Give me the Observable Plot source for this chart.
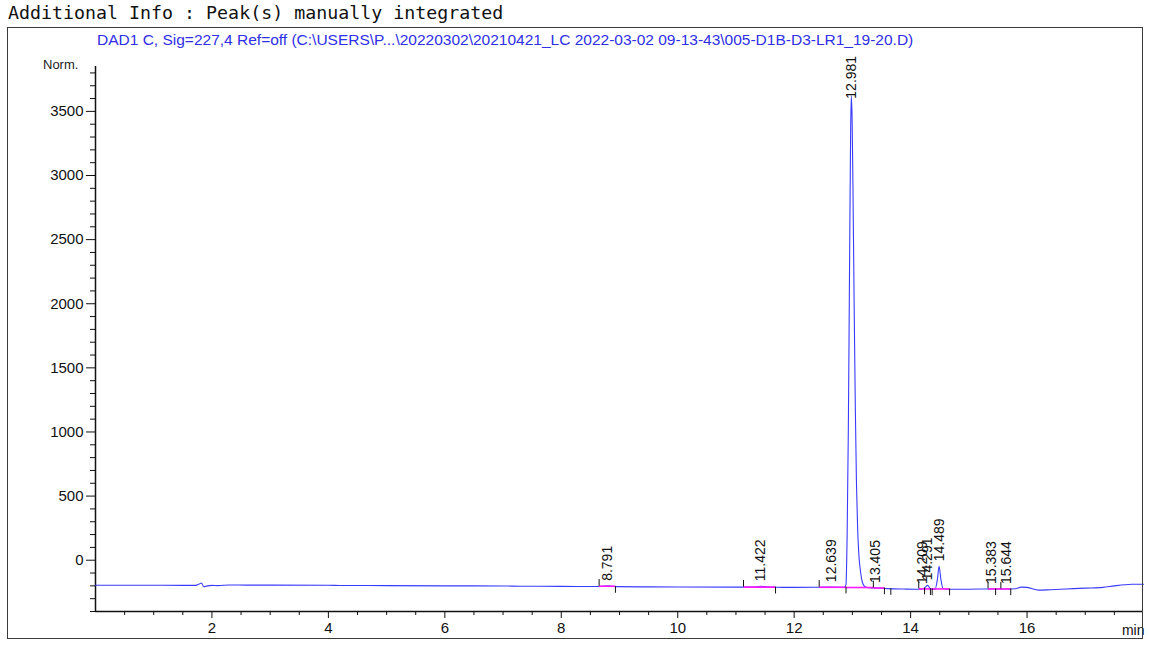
<!DOCTYPE html>
<html>
<head>
<meta charset="utf-8">
<script src="https://cdn.jsdelivr.net/npm/d3@7"></script>
<script src="https://cdn.jsdelivr.net/npm/@observablehq/plot@0.6"></script>
<style>
  html, body { margin: 0; padding: 0; background: #fff; }
  #wrap { position: relative; width: 1149px; height: 646px; overflow: hidden; background: #fff; }
  #chart { position: absolute; left: 0; top: 0; }
  #header { position: absolute; left: 8px; top: 2px; font-family: "DejaVu Sans Mono", monospace; font-size: 18.3px; color: #111; white-space: pre; }
  #frame { position: absolute; left: 7px; top: 27px; width: 1134px; height: 610px; border: 1.5px solid #3a3a3a; pointer-events: none; }
  #title { position: absolute; left: 97px; top: 31px; font-family: "Liberation Sans", Arial, sans-serif; font-size: 15.5px; color: #2f2fe6; white-space: pre; }
  #ylab { position: absolute; left: 43px; top: 57px; font-family: "Liberation Sans", Arial, sans-serif; font-size: 13px; color: #222; }
</style>
</head>
<body>
<div id="wrap">
  <div id="chart"></div>
  <div id="header">Additional Info : Peak(s) manually integrated</div>
  <div id="title">DAD1 C, Sig=227,4 Ref=off (C:\USERS\P...\20220302\20210421_LC 2022-03-02 09-13-43\005-D1B-D3-LR1_19-20.D)</div>
  <div id="ylab">Norm.</div>
  <div id="frame"></div>
</div>
<script>
// ---- Chromatogram trace (time in min, signal in Norm.) ----
const traceTime = [0, 0.5, 1.0, 1.5, 1.72, 1.78, 1.82, 1.86, 1.92, 2.0, 2.1, 2.3, 2.6, 3.0, 4.0, 4.2, 5.0, 6.0, 7.0, 7.3, 8.0, 8.6, 8.79, 8.95, 9.5, 10.0, 11.0, 11.3, 11.42, 11.55, 11.7, 12.0, 12.64, 12.86, 12.89, 12.91, 12.93, 12.95, 12.97, 12.981, 12.995, 13.01, 13.03, 13.05, 13.07, 13.09, 13.11, 13.14, 13.17, 13.21, 13.27, 13.405, 13.6, 13.9, 14.1, 14.209, 14.25, 14.291, 14.34, 14.42, 14.46, 14.489, 14.52, 14.56, 14.7, 15.0, 15.383, 15.644, 15.8, 15.9, 16.0, 16.2, 16.4, 16.8, 17.0, 17.3, 17.5, 17.8, 18.0];
const traceValue = [-195, -195, -195, -196, -196, -186, -178, -207, -200, -196, -198, -193, -194, -194, -195, -197, -198, -200, -201, -203, -204, -205, -200, -206, -208, -209, -210, -210, -203, -209, -211, -212, -210, -211, -190, 200, 1000, 2200, 3350, 3620, 3450, 2900, 2000, 1200, 600, 250, 50, -90, -170, -205, -215, -216, -222, -225, -226, -224, -212, -196, -222, -226, -150, -47, -150, -222, -226, -226, -224, -225, -222, -210, -212, -233, -230, -222, -218, -212, -200, -188, -187];

// ---- Peak annotations ----
const peakLabels = ["8.791", "11.422", "12.639", "12.981", "13.405", "14.209", "14.291", "14.489", "15.383", "15.644"];
const peakTimes  = [8.791, 11.422, 12.639, 12.981, 13.405, 14.209, 14.291, 14.489, 15.383, 15.644];
const peakApex   = [-200, -203, -210, 3560, -216, -224, -196, -47, -224, -225];

// integration baselines (start, end, level)
const baseStart = [8.65, 11.13, 12.43, 12.89, 13.36, 14.14, 15.33];
const baseEnd   = [8.93, 11.68, 12.89, 13.36, 13.55, 14.67, 15.72];
const baseLevel = [-203, -210, -211, -213, -217, -224, -224];

// integration event marks (time, baseline level, direction: 1 up / -1 down)
const eventTime  = [8.65, 8.93, 11.13, 11.68, 12.43, 12.89, 13.36, 13.55, 13.66, 14.14, 14.24, 14.34, 14.37, 14.67, 15.33, 15.46, 15.55, 15.72];
const eventLevel = [-203, -206, -210, -211, -211, -211, -216, -217, -222, -224, -218, -223, -225, -226, -224, -224, -225, -224];
const eventDir   = [1, -1, 1, -1, 1, -1, 1, -1, -1, 1, -1, -1, -1, -1, 1, -1, 1, -1];

// ---- Axes ----
const xDomain = [0, 18];
const yDomain = [-400, 3850];
const xMajorTicks = [2, 4, 6, 8, 10, 12, 14, 16];
const xMinorTicks = [0.5, 1, 1.5, 2.5, 3, 3.5, 4.5, 5, 5.5, 6.5, 7, 7.5, 8.5, 9, 9.5, 10.5, 11, 11.5, 12.5, 13, 13.5, 14.5, 15, 15.5, 16.5, 17, 17.5];
const yMajorTicks = [0, 500, 1000, 1500, 2000, 2500, 3000, 3500];
const yMinorTicks = [-400, -300, -200, -100, 100, 200, 300, 400, 600, 700, 800, 900, 1100, 1200, 1300, 1400, 1600, 1700, 1800, 1900, 2100, 2200, 2300, 2400, 2600, 2700, 2800, 2900, 3100, 3200, 3300, 3400, 3600, 3700, 3800];

const trace = traceTime.map((t, i) => ({t, v: traceValue[i]}));
const peaks = peakTimes.map((t, i) => ({t, v: peakApex[i], label: peakLabels[i]}));
const bases = baseStart.map((s, i) => ({s, e: baseEnd[i], v: baseLevel[i]}));
const events = eventTime.map((t, i) => ({t, y1: eventLevel[i], y2: eventLevel[i] + eventDir[i] * 52}));

const chart = Plot.plot({
  width: 1149,
  height: 646,
  marginLeft: 95,
  marginRight: 6,
  marginTop: 66,
  marginBottom: 35,
  style: {fontFamily: "'Liberation Sans', Arial, sans-serif", fontSize: "15px", color: "#111", background: "transparent"},
  x: {domain: xDomain},
  y: {domain: yDomain},
  marks: [
    Plot.axisX({ticks: xMinorTicks, tickSize: 4, tickFormat: () => "", label: null}),
    Plot.axisX({ticks: xMajorTicks, tickSize: 7, tickPadding: 4, tickFormat: d => String(d), label: null, fontSize: 15}),
    Plot.axisY({ticks: yMinorTicks, tickSize: 5, tickFormat: () => "", label: null}),
    Plot.axisY({ticks: yMajorTicks, tickSize: 9, tickPadding: 3, tickFormat: d => String(d), label: null, fontSize: 15}),
    Plot.ruleX([xDomain[0]], {stroke: "#111", strokeWidth: 1.5}),
    Plot.ruleY([yDomain[0]], {stroke: "#111", strokeWidth: 1.5}),
    Plot.line(trace, {x: "t", y: "v", stroke: "#3a3aff", strokeWidth: 1.1, curve: "monotone-x"}),
    Plot.link(bases, {x1: "s", x2: "e", y1: "v", y2: "v", stroke: "#ff1aff", strokeWidth: 1.6}),
    Plot.ruleX(events, {x: "t", y1: "y1", y2: "y2", stroke: "#111", strokeWidth: 1}),
    Plot.text(peaks, {x: "t", y: "v", text: "label", rotate: -90, textAnchor: "start", dy: -5, fontSize: 14, fill: "#111"}),
    Plot.text(["min"], {frameAnchor: "bottom-right", dx: 1, dy: 23, text: d => d, textAnchor: "end", fontSize: 14, fill: "#111"})
  ]
});
document.getElementById("chart").appendChild(chart);
</script>
</body>
</html>
